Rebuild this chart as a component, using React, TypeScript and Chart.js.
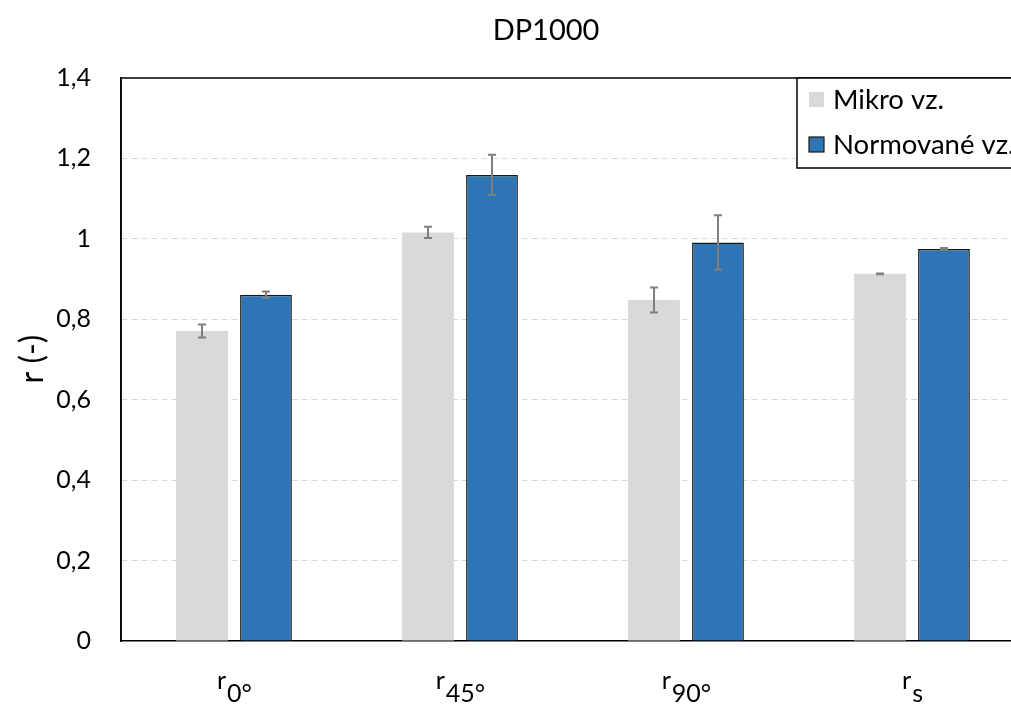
import React, { useEffect, useRef } from "react";
import { Chart, registerables } from "chart.js";

Chart.register(...registerables);

const categories = ["0°", "45°", "90°", "s"];
const seriesNames = ["Mikro vz.", "Normované vz."];
const mikroValues = [0.771, 1.016, 0.848, 0.913];
const mikroErrors = [0.016, 0.014, 0.031, 0.001];
const normValues = [0.861, 1.159, 0.991, 0.975];
const normErrors = [0.008, 0.05, 0.068, 0.002];
const yTicks = [0, 0.2, 0.4, 0.6, 0.8, 1.0, 1.2, 1.4];
const titleText = "DP1000";
const yTitle = "r (-)";

const FONT = "Lato, 'Open Sans', sans-serif";
const GREY = "#D9D9D9";
const BLUE = "#2E75B6";

const errorsBySeries = [mikroErrors, normErrors];

const customPlugin = {
  id: "custom",
  afterDatasetsDraw(chart: any) {
    const ctx = chart.ctx;
    const y = chart.scales.y;
    ctx.save();
    ctx.strokeStyle = "#7F7F7F";
    ctx.lineWidth = 2;
    chart.data.datasets.forEach((ds: any, di: number) => {
      const meta = chart.getDatasetMeta(di);
      meta.data.forEach((bar: any, i: number) => {
        const v = ds.data[i];
        const e = errorsBySeries[di][i];
        const yt = y.getPixelForValue(v + e);
        const yb = y.getPixelForValue(v - e);
        const x = bar.x;
        ctx.beginPath();
        ctx.moveTo(x, yt);
        ctx.lineTo(x, yb);
        ctx.moveTo(x - 4, yt);
        ctx.lineTo(x + 4, yt);
        ctx.moveTo(x - 4, yb);
        ctx.lineTo(x + 4, yb);
        ctx.stroke();
      });
    });
    ctx.restore();
  },
  afterDraw(chart: any) {
    const ctx = chart.ctx;
    const area = chart.chartArea;
    const xs = chart.scales.x;
    ctx.save();
    ctx.strokeStyle = "#000";
    ctx.lineWidth = 1.5;
    ctx.setLineDash([]);
    ctx.beginPath();
    ctx.moveTo(area.left, area.top);
    ctx.lineTo(area.right, area.top);
    ctx.moveTo(area.left, area.top);
    ctx.lineTo(area.left, area.bottom);
    ctx.stroke();

    // title
    ctx.fillStyle = "#000";
    ctx.font = `29px ${FONT}`;
    ctx.textAlign = "center";
    ctx.textBaseline = "middle";
    ctx.fillText(titleText, 546, 31);

    // y title
    ctx.save();
    ctx.translate(33, 359);
    ctx.rotate(-Math.PI / 2);
    ctx.font = `32px ${FONT}`;
    ctx.fillText(yTitle, 0, 0);
    ctx.restore();

    // x labels with subscripts
    ctx.font = `25px ${FONT}`;
    ctx.textBaseline = "alphabetic";
    ctx.textAlign = "left";
    categories.forEach((c, i) => {
      const cx = xs.getPixelForValue(i);
      const wr = ctx.measureText("r").width;
      const ws = ctx.measureText(c).width;
      const start = cx - (wr + ws) / 2;
      ctx.fillText("r", start, 689);
      ctx.fillText(c, start + wr + 1, 702);
    });

    // legend
    const lx = 797, ly = 78, lw = 260, lh = 90;
    ctx.fillStyle = "#fff";
    ctx.fillRect(lx, ly, lw, lh);
    ctx.strokeStyle = "#000";
    ctx.lineWidth = 1.5;
    ctx.strokeRect(lx, ly, lw, lh);
    const items = [
      { name: seriesNames[0], color: GREY, border: null, y: 100 },
      { name: seriesNames[1], color: BLUE, border: "#1a1a1a", y: 145 },
    ];
    ctx.font = `27.5px ${FONT}`;
    ctx.textBaseline = "middle";
    items.forEach((it) => {
      ctx.fillStyle = it.color;
      ctx.fillRect(809, it.y - 8, 15, 15);
      if (it.border) {
        ctx.strokeStyle = it.border;
        ctx.lineWidth = 1.2;
        ctx.strokeRect(809, it.y - 8, 15, 15);
      }
      ctx.fillStyle = "#000";
      ctx.fillText(it.name, 833, it.y);
    });
    ctx.restore();
  },
};

export default function App() {
  const ref = useRef<HTMLCanvasElement>(null);
  useEffect(() => {
    if (!ref.current) return;
    const chart = new Chart(ref.current, {
      type: "bar",
      data: {
        labels: categories,
        datasets: [
          {
            label: seriesNames[0],
            data: mikroValues,
            backgroundColor: GREY,
            borderWidth: 0,
            categoryPercentage: 0.566,
            barPercentage: 0.81,
          },
          {
            label: seriesNames[1],
            data: normValues,
            backgroundColor: BLUE,
            borderColor: "#1a1a1a",
            borderWidth: 1.5,
            categoryPercentage: 0.566,
            barPercentage: 0.81,
          },
        ],
      },
      options: {
        animation: false,
        responsive: false,
        maintainAspectRatio: false,
        layout: { padding: { left: 0, top: 78, right: 35, bottom: 63 } },
        plugins: {
          legend: { display: false },
          title: { display: false },
          tooltip: { enabled: false },
        },
        scales: {
          x: {
            grid: { display: false, drawTicks: false },
            border: { color: "#000", width: 1.5 },
            ticks: { display: false },
            afterFit: (s: any) => {
              s.height = 0;
            },
          },
          y: {
            min: 0,
            max: 1.4,
            afterFit: (s: any) => {
              s.width = 121;
            },
            afterBuildTicks: (s: any) => {
              s.ticks = yTicks.map((v) => ({ value: v }));
            },
            grid: {
              drawTicks: false,
              color: (c: any) => (c.tick && (c.tick.value === 0 || c.tick.value === 1.4) ? "rgba(0,0,0,0)" : "#D9D9D9"),
              lineWidth: 1,
            } as any,
            border: { color: "#000", width: 1.5, dash: [6, 4] } as any,
            ticks: {
              padding: 30,
              color: "#000",
              font: { family: FONT, size: 25 },
              callback: (v: any) => String(Math.round(Number(v) * 10) / 10).replace(".", ","),
            },
          },
        },
      },
      plugins: [customPlugin],
    });
    return () => chart.destroy();
  }, []);
  return (
    <div style={{ position: "absolute", left: 0, top: 0, width: 1011, height: 704, overflow: "hidden", background: "#fff" }}>
      <canvas ref={ref} width={1060} height={704} style={{ display: "block" }} />
    </div>
  );
}
